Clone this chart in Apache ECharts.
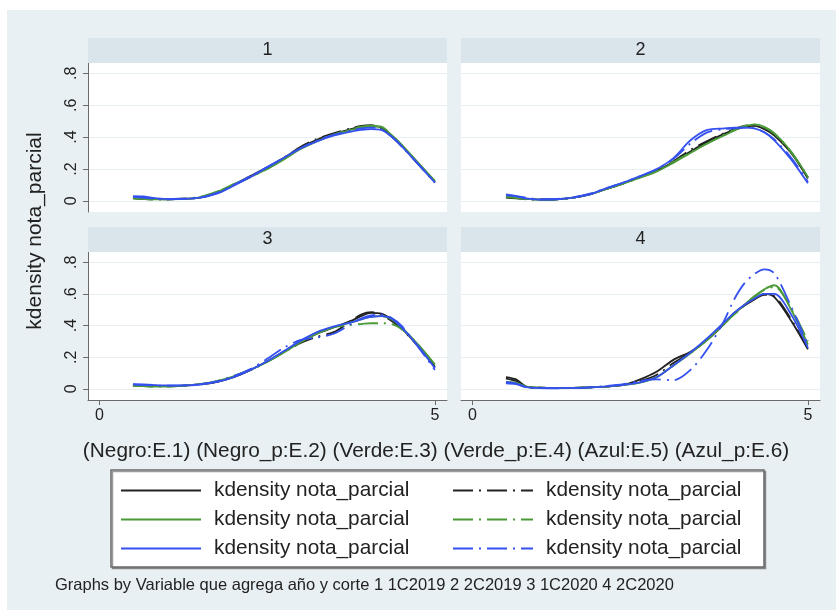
<!DOCTYPE html>
<html><head><meta charset="utf-8">
<script src="https://cdn.jsdelivr.net/npm/echarts@6/dist/echarts.min.js"></script>
<style>html,body{margin:0;background:#fff;}#c{position:absolute;left:7px;top:10px;width:829px;height:600px;}</style>
</head><body><div id="c"></div>
<script>
// ---- data ----
const xGrid = [0.5,0.65,0.8,1.0,1.25,1.5,1.75,2.0,2.25,2.5,2.75,3.0,3.25,3.5,3.75,3.9,4.05,4.2,4.35,4.5,4.75,5.0];
const panelTitles = ['1','2','3','4'];
const seriesNames = ['Negro','Negro_p','Verde','Verde_p','Azul','Azul_p'];
const legendLabel = 'kdensity nota_parcial';
const yTicks = [0,0.2,0.4,0.6,0.8];
const yTickLabels = ['0','.2','.4','.6','.8'];
const xTicks = [0,5];
const xTickLabels = ['0','5'];

// panel 1 (1C2019)
const p1_negro   = [0.02,0.015,0.012,0.01,0.012,0.02,0.05,0.1,0.155,0.21,0.27,0.335,0.385,0.42,0.45,0.465,0.47,0.46,0.41,0.35,0.235,0.12];
const p1_negro_p = [0.015,0.012,0.01,0.01,0.013,0.022,0.052,0.1,0.15,0.205,0.27,0.34,0.39,0.425,0.455,0.47,0.475,0.455,0.405,0.345,0.23,0.115];
const p1_verde   = [0.02,0.015,0.01,0.01,0.012,0.022,0.055,0.105,0.15,0.2,0.26,0.325,0.375,0.415,0.445,0.46,0.468,0.465,0.415,0.355,0.24,0.125];
const p1_verde_p = [0.015,0.012,0.01,0.01,0.014,0.025,0.058,0.1,0.148,0.2,0.262,0.33,0.38,0.418,0.45,0.465,0.472,0.46,0.41,0.35,0.235,0.12];
const p1_azul    = [0.03,0.028,0.018,0.012,0.013,0.02,0.045,0.095,0.15,0.21,0.27,0.33,0.375,0.41,0.435,0.445,0.45,0.445,0.405,0.345,0.23,0.115];
const p1_azul_p  = [0.025,0.02,0.014,0.01,0.012,0.02,0.05,0.1,0.155,0.212,0.272,0.33,0.38,0.415,0.44,0.455,0.46,0.45,0.405,0.345,0.232,0.118];
// panel 2 (2C2019)
const p2_negro   = [0.025,0.018,0.012,0.008,0.01,0.02,0.04,0.075,0.11,0.15,0.19,0.245,0.31,0.37,0.42,0.445,0.465,0.47,0.45,0.41,0.3,0.14];
const p2_negro_p = [0.02,0.015,0.01,0.008,0.01,0.02,0.042,0.075,0.11,0.148,0.19,0.25,0.32,0.375,0.425,0.45,0.47,0.475,0.455,0.415,0.305,0.15];
const p2_verde   = [0.03,0.02,0.012,0.008,0.01,0.02,0.04,0.075,0.108,0.145,0.185,0.24,0.3,0.36,0.41,0.44,0.465,0.48,0.465,0.425,0.31,0.15];
const p2_verde_p = [0.025,0.018,0.012,0.008,0.01,0.02,0.042,0.075,0.11,0.148,0.19,0.245,0.305,0.36,0.415,0.445,0.47,0.478,0.46,0.42,0.305,0.145];
const p2_azul    = [0.04,0.03,0.015,0.008,0.01,0.02,0.04,0.08,0.115,0.155,0.2,0.27,0.38,0.445,0.455,0.46,0.46,0.455,0.43,0.38,0.26,0.11];
const p2_azul_p  = [0.035,0.03,0.02,0.01,0.012,0.022,0.045,0.08,0.115,0.155,0.2,0.265,0.36,0.43,0.45,0.455,0.46,0.455,0.43,0.385,0.27,0.12];
// panel 3 (1C2020)
const p3_negro   = [0.025,0.022,0.02,0.018,0.02,0.03,0.045,0.075,0.12,0.175,0.235,0.3,0.35,0.39,0.43,0.46,0.48,0.475,0.44,0.385,0.27,0.14];
const p3_negro_p = [0.022,0.02,0.018,0.018,0.02,0.028,0.045,0.075,0.118,0.172,0.232,0.29,0.33,0.36,0.43,0.47,0.485,0.47,0.43,0.38,0.27,0.14];
const p3_verde   = [0.02,0.018,0.015,0.015,0.02,0.03,0.05,0.08,0.12,0.17,0.23,0.295,0.35,0.39,0.42,0.44,0.455,0.46,0.44,0.39,0.28,0.155];
const p3_verde_p = [0.02,0.018,0.015,0.015,0.02,0.03,0.05,0.082,0.122,0.172,0.232,0.3,0.355,0.39,0.405,0.41,0.415,0.415,0.41,0.38,0.28,0.15];
const p3_azul    = [0.03,0.028,0.025,0.022,0.022,0.028,0.045,0.075,0.12,0.175,0.24,0.305,0.36,0.395,0.42,0.44,0.455,0.46,0.445,0.39,0.27,0.13];
const p3_azul_p  = [0.028,0.025,0.022,0.02,0.022,0.03,0.048,0.08,0.125,0.19,0.26,0.31,0.325,0.35,0.41,0.445,0.465,0.47,0.45,0.4,0.265,0.12];
// panel 4 (2C2020)
const p4_negro   = [0.075,0.06,0.015,0.008,0.006,0.007,0.01,0.015,0.025,0.06,0.11,0.185,0.235,0.31,0.41,0.48,0.525,0.565,0.6,0.58,0.43,0.25];
const p4_negro_p = [0.065,0.05,0.015,0.008,0.006,0.007,0.01,0.015,0.025,0.05,0.09,0.165,0.23,0.315,0.415,0.475,0.525,0.565,0.595,0.585,0.44,0.255];
const p4_verde   = [0.04,0.035,0.015,0.008,0.006,0.007,0.01,0.015,0.025,0.04,0.075,0.15,0.225,0.31,0.41,0.475,0.53,0.585,0.63,0.655,0.5,0.28];
const p4_verde_p = [0.045,0.04,0.015,0.008,0.006,0.007,0.01,0.016,0.025,0.04,0.075,0.15,0.225,0.31,0.41,0.47,0.525,0.58,0.625,0.645,0.51,0.3];
const p4_azul    = [0.045,0.035,0.012,0.006,0.005,0.006,0.01,0.016,0.026,0.042,0.075,0.15,0.23,0.32,0.42,0.48,0.53,0.57,0.6,0.6,0.47,0.26];
const p4_azul_p  = [0.035,0.03,0.01,0.005,0.004,0.006,0.01,0.018,0.03,0.05,0.06,0.055,0.12,0.25,0.43,0.565,0.665,0.725,0.755,0.73,0.52,0.28];

const panels = [
  [p1_negro,p1_negro_p,p1_verde,p1_verde_p,p1_azul,p1_azul_p],
  [p2_negro,p2_negro_p,p2_verde,p2_verde_p,p2_azul,p2_azul_p],
  [p3_negro,p3_negro_p,p3_verde,p3_verde_p,p3_azul,p3_azul_p],
  [p4_negro,p4_negro_p,p4_verde,p4_verde_p,p4_azul,p4_azul_p]
];

// ---- styling ----
const OX = 7, OY = 10; // chart container offset on the page
const FONT = '"Liberation Sans", Arial, Helvetica, sans-serif';
const colors = ['#222222','#222222','#4a9a38','#4a9a38','#3550f0','#3550f0'];
const dashes = ['solid',[20,6,2,6],'solid',[20,6,2,6],'solid',[20,6,2,6]];
const gridBoxes = [
  {l:88, t:63, w:359, h:149},
  {l:461,t:63, w:359, h:149},
  {l:88, t:252,w:359, h:148},
  {l:461,t:252,w:359, h:148}
];
const headerBoxes = [
  {l:88, t:38, w:359, h:25},
  {l:461,t:38, w:359, h:25},
  {l:88, t:227,w:359, h:25},
  {l:461,t:227,w:359, h:25}
];

const grid = gridBoxes.map(b => ({
  left: b.l-OX, top: b.t-OY, width: b.w, height: b.h,
  show: true, backgroundColor: '#ffffff', borderWidth: 0, containLabel: false
}));

const xAxis = gridBoxes.map((b,i) => {
  const bottom = i >= 2;
  return {
    type: 'value', gridIndex: i, min: -0.17, max: 5.18,
    show: bottom,
    axisLine: {show: bottom, onZero: false, lineStyle: {color: '#6a6a6a', width: 1}},
    axisTick: {show: bottom, length: 5, customValues: xTicks, lineStyle: {color: '#6a6a6a'}},
    axisLabel: {show: bottom, customValues: xTicks, margin: 8, color: '#222', fontSize: 16, fontFamily: FONT,
      formatter: v => xTickLabels[xTicks.indexOf(v)] ?? ''},
    splitLine: {show: false}
  };
});

const yAxis = gridBoxes.map((b,i) => {
  const left = (i % 2) === 0;
  return {
    type: 'value', gridIndex: i, min: -0.07, max: 0.865,
    axisLine: {show: left, onZero: false, lineStyle: {color: '#6a6a6a', width: 1}},
    axisTick: {show: left, length: 5, customValues: yTicks, lineStyle: {color: '#6a6a6a'}},
    axisLabel: {show: left, customValues: yTicks, rotate: 90, margin: 8, color: '#222', fontSize: 16, fontFamily: FONT,
      formatter: v => { const k = yTicks.findIndex(t => Math.abs(t - v) < 1e-9); return k >= 0 ? yTickLabels[k] : ''; }},
    splitLine: {show: true, lineStyle: {color: '#e7eff2', width: 1}}
  };
});

const series = [];
panels.forEach((arrs, pi) => {
  arrs.forEach((arr, si) => {
    series.push({
      type: 'line', name: seriesNames[si], xAxisIndex: pi, yAxisIndex: pi,
      data: xGrid.map((x, k) => [x, arr[k]]),
      symbol: 'none', showSymbol: false, smooth: 0.3, animation: false,
      lineStyle: {color: colors[si], width: 1.8, type: dashes[si]},
      itemStyle: {color: colors[si]},
      z: 2 + si
    });
  });
});

const graphic = [];
headerBoxes.forEach((b, i) => {
  graphic.push({type: 'rect', shape: {x: b.l-OX, y: b.t-OY, width: b.w, height: b.h}, style: {fill: '#d9e4eb'}, z: 1, silent: true});
  graphic.push({type: 'text', x: b.l-OX + b.w/2, y: b.t-OY + b.h/2, style: {text: panelTitles[i], fill: '#222', font: '18px ' + FONT, align: 'center', verticalAlign: 'middle'}, z: 2, silent: true});
});
// y-axis title
graphic.push({type: 'text', x: 35-OX, y: 231-OY, rotation: Math.PI/2,
  style: {text: 'kdensity nota_parcial', fill: '#222', font: '21px ' + FONT, align: 'center', verticalAlign: 'middle'}, silent: true});
// x-axis title
graphic.push({type: 'text', x: 436-OX, y: 451-OY,
  style: {text: '(Negro:E.1) (Negro_p:E.2) (Verde:E.3) (Verde_p:E.4) (Azul:E.5) (Azul_p:E.6)', fill: '#222', font: '20.8px ' + FONT, align: 'center', verticalAlign: 'middle'}, silent: true});
// legend box
graphic.push({type: 'rect', shape: {x: 111-OX, y: 470-OY, width: 653, height: 97},
  style: {fill: '#ffffff', stroke: '#6a6a6a', lineWidth: 1.5, shadowColor: 'rgba(90,90,90,0.6)', shadowOffsetX: 1.5, shadowOffsetY: 1.5, shadowBlur: 0}, z: 0, silent: true});
// note
graphic.push({type: 'text', x: 55-OX, y: 585-OY,
  style: {text: 'Graphs by Variable que agrega año y corte 1 1C2019 2 2C2019 3 1C2020 4 2C2020', fill: '#222', font: '16.5px ' + FONT, align: 'left', verticalAlign: 'middle'}, silent: true});

const legendCommon = {
  orient: 'vertical', itemWidth: 80, itemHeight: 14, itemGap: 8, padding: 0, z: 10,
  selectedMode: false,
  formatter: () => legendLabel,
  itemStyle: {opacity: 0, borderWidth: 0},
  textStyle: {color: '#222', fontSize: 20.8, fontFamily: FONT, lineHeight: 21, padding: [0,0,0,8]}
};
const legend = [
  Object.assign({}, legendCommon, {left: 120-OX, top: 480-OY, data: ['Negro','Verde','Azul']}),
  Object.assign({}, legendCommon, {left: 452-OX, top: 480-OY, data: ['Negro_p','Verde_p','Azul_p']})
];

const chart = echarts.init(document.getElementById('c'), null, {renderer: 'canvas'});
chart.setOption({
  backgroundColor: '#e9f0f3',
  animation: false,
  grid, xAxis, yAxis, series, graphic, legend
});
</script></body></html>
